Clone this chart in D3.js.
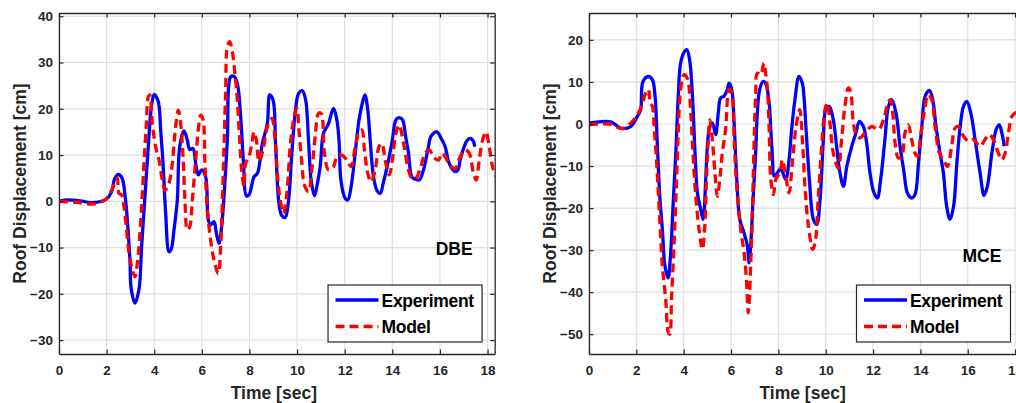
<!DOCTYPE html>
<html>
<head>
<meta charset="utf-8">
<script src="https://cdn.jsdelivr.net/npm/d3@7"></script>
<style>
  body { margin: 0; background: #fff; }
  svg { display: block; font-family: "Liberation Sans", Arial, sans-serif; font-weight: bold; }
</style>
</head>
<body>
<div id="chart"></div>
<script>
// tick labels
const timeTicks = [0, 2, 4, 6, 8, 10, 12, 14, 16, 18];
const dbeTicks = [-30, -20, -10, 0, 10, 20, 30, 40];
const mceTicks = [-50, -40, -30, -20, -10, 0, 10, 20];
const seriesNames = ["Experiment", "Model"];

// [time (sec), roof displacement (cm)]
const dbeExperiment = [
  [0, 0], [0.3, 0.3], [0.9, 0.1], [1.4, -0.3], [2.0, 0.5], [2.2, 2], [2.35, 5], [2.5, 5.8], [2.65, 5],
  [2.78, 1], [2.87, -4], [2.98, -12.7], [3.03, -18.8], [3.19, -22], [3.36, -19], [3.47, -9.8], [3.61, 1],
  [3.75, 11.8], [3.89, 20.8], [4.0, 23.1], [4.17, 21.5], [4.27, 15.4], [4.37, 8.2], [4.48, -2.6],
  [4.62, -10.9], [4.72, -10.2], [4.83, -6.2], [4.97, 0.3], [5.07, 11.8], [5.25, 15.2], [5.39, 13.2],
  [5.49, 11.2], [5.63, 11.4], [5.74, 8.2], [5.85, 5.7], [5.99, 6.8], [6.16, 5.3], [6.27, -4], [6.37, -5.1],
  [6.51, -4.4], [6.61, -6.9], [6.72, -9.1], [6.83, -5.5], [6.93, 1], [7.07, 13.2], [7.21, 26.9], [7.35, 27],
  [7.49, 25.5], [7.63, 18.3], [7.75, 8.2], [7.87, 1.2], [7.98, 1.4], [8.19, 5.3], [8.33, 6], [8.54, 12.5],
  [8.75, 16.8], [8.85, 23], [8.99, 21.9], [9.1, 11.8], [9.24, -0.5], [9.35, -3], [9.5, -3.5], [9.63, -0.4],
  [9.78, 10.4], [9.92, 19], [10.06, 23.3], [10.22, 23.9], [10.36, 21.9], [10.48, 13.2], [10.59, 4.6],
  [10.73, 1.2], [10.83, 3.2], [10.97, 7.5], [11.11, 14.7], [11.32, 16.8], [11.53, 20.1], [11.67, 17.6],
  [11.76, 13.2], [11.84, 4.6], [12.02, 0.6], [12.13, 0.3], [12.27, 3.2], [12.44, 10.4], [12.6, 17.6],
  [12.74, 21.2], [12.85, 23], [12.97, 19.7], [13.07, 13.2], [13.21, 5.3], [13.35, 2.4], [13.49, 1.7],
  [13.63, 4.2], [13.84, 8.9], [14.0, 13.2], [14.15, 17.6], [14.29, 18.1], [14.43, 17.6], [14.56, 14],
  [14.68, 10.4], [14.82, 5.3], [14.96, 4.8], [15.13, 4.6], [15.31, 6.8], [15.49, 11.1], [15.63, 14.1],
  [15.87, 15], [16.05, 13.6], [16.22, 11.8], [16.36, 8.6], [16.5, 7.1], [16.64, 6.4], [16.76, 6.8],
  [16.85, 8.9], [16.99, 11.4], [17.13, 13.1], [17.27, 13.6], [17.41, 12.9], [17.46, 11.8]
];

const dbeModel = [
  [0, 0], [0.7, -0.2], [1.4, -0.6], [1.82, 0], [2.0, 0.6], [2.17, 2], [2.35, 3.9], [2.45, 5], [2.52, 1.7],
  [2.63, 1.4], [2.73, -1.2], [2.84, -6.2], [2.94, -11.2], [3.08, -14.8], [3.19, -16.3], [3.29, -13.4],
  [3.36, -9.8], [3.47, -1.2], [3.57, 8.2], [3.67, 16.8], [3.75, 22.6], [3.81, 23], [3.92, 16.8], [4.06, 11.8],
  [4.2, 8.9], [4.34, 4.6], [4.45, 2.4], [4.62, 3.9], [4.76, 8.2], [4.87, 14.7], [5.01, 19.7], [5.11, 16.8],
  [5.21, 9.6], [5.29, 0.3], [5.39, -6.2], [5.49, -5.5], [5.6, 0.3], [5.74, 8.9], [5.85, 15.4], [5.95, 18.6],
  [6.05, 17.6], [6.13, 8.2], [6.23, -1.9], [6.37, -8.4], [6.51, -12.7], [6.69, -15.6], [6.79, -9.8],
  [6.86, -0.4], [6.93, 11.8], [7.0, 24], [7.07, 33.4], [7.17, 34.5], [7.28, 32.3], [7.39, 27.6], [7.49, 21.9],
  [7.59, 13.2], [7.67, 6.8], [7.77, 3.2], [7.84, 8.2], [7.98, 9.6], [8.12, 13.2], [8.19, 15], [8.29, 13.2],
  [8.4, 8.6], [8.57, 11.1], [8.75, 16.1], [8.94, 17.9], [9.08, 13.2], [9.17, 6], [9.29, 0.3], [9.43, -2.6],
  [9.57, 1.7], [9.71, 11.8], [9.85, 17.6], [9.99, 20.1], [10.08, 15.4], [10.2, 8.2], [10.31, 3.5],
  [10.48, 2.1], [10.62, 6.8], [10.76, 14], [10.9, 19], [11.01, 19], [11.15, 10.4], [11.32, 6.8], [11.53, 7.5],
  [11.67, 9.6], [11.88, 10], [12.09, 8.9], [12.27, 7.5], [12.44, 11.8], [12.6, 15], [12.72, 15.4],
  [12.83, 11.1], [12.97, 6], [13.11, 4.2], [13.28, 6.8], [13.44, 11.8], [13.56, 12.5], [13.7, 8.9],
  [13.87, 5.7], [14.0, 8.9], [14.15, 14.7], [14.29, 16.5], [14.47, 12.5], [14.65, 7.5], [14.82, 5], [14.99, 5],
  [15.17, 7.1], [15.38, 10.4], [15.55, 11.1], [15.73, 9.6], [15.94, 8.9], [16.08, 10.4], [16.22, 9.6],
  [16.43, 7.8], [16.64, 7.1], [16.85, 9.6], [17.06, 11.1], [17.23, 10.4], [17.41, 6], [17.52, 4.6],
  [17.65, 8.9], [17.79, 13.2], [17.93, 15], [18.07, 11.8], [18.21, 7.5], [18.35, 5.3]
];

const mceExperiment = [
  [0, 0.2], [0.92, 0.5], [1.34, -1], [1.76, -0.6], [2.04, 1.8], [2.18, 3.4], [2.28, 10.1], [2.51, 11.3],
  [2.68, 10.5], [2.79, 6.6], [2.89, -5.3], [2.99, -17.2], [3.1, -25.1], [3.21, -33.8], [3.34, -36.6],
  [3.45, -30.6], [3.55, -19.6], [3.66, -7.7], [3.77, 6.6], [3.87, 14.5], [4.01, 17], [4.13, 17.7],
  [4.25, 15.3], [4.37, 6.6], [4.48, -6.9], [4.58, -16.4], [4.72, -20.3], [4.82, -22.7], [4.93, -13.2],
  [5.0, -5.3], [5.1, -0.6], [5.21, 0.2], [5.35, -2.5], [5.46, 2.6], [5.56, 6.2], [5.7, 6.6], [5.82, 7.8],
  [5.92, 9.7], [6.03, 8.2], [6.13, 0.2], [6.23, -11.6], [6.37, -22.7], [6.55, -25.9], [6.69, -29],
  [6.76, -33], [6.83, -29], [6.93, -18], [7.04, -6.9], [7.11, 2.6], [7.21, 8.2], [7.35, 10.1], [7.46, 9.7],
  [7.61, 5], [7.68, -1.3], [7.75, -7.7], [7.82, -12.4], [7.96, -11.6], [8.1, -10.6], [8.31, -13.2],
  [8.45, -8.5], [8.56, -1.3], [8.7, 5.8], [8.87, 11.3], [9.01, 9.7], [9.08, 6.6], [9.17, -1.3], [9.31, -13.2],
  [9.48, -22.7], [9.62, -23.9], [9.76, -18], [9.9, -3.7], [10.0, 3.4], [10.15, 4.2], [10.32, 1],
  [10.46, -5.3], [10.6, -11.6], [10.75, -14.8], [10.89, -10.1], [11.1, -5.3], [11.28, -2.1], [11.42, 0.6],
  [11.59, -0.6], [11.73, -4.5], [11.87, -11.6], [12.04, -16.4], [12.18, -17.6], [12.32, -13.2],
  [12.5, -3.7], [12.65, 4.2], [12.79, 5.8], [12.97, 2.6], [13.14, -5.3], [13.31, -11.6], [13.45, -16.4],
  [13.63, -17.6], [13.77, -16.8], [13.92, -9.3], [14.06, -0.6], [14.2, 6.6], [14.38, 8], [14.52, 5.8],
  [14.66, -0.6], [14.83, -6.9], [14.97, -11.6], [15.11, -19.6], [15.25, -22.7], [15.4, -19.6], [15.54, -9.3],
  [15.68, -0.6], [15.82, 4.2], [15.96, 5.4], [16.13, 2.6], [16.31, -3.7], [16.52, -11.6], [16.69, -17],
  [16.83, -14.8], [17.02, -6.9], [17.2, -1.3], [17.33, -0.2], [17.44, -2.1], [17.54, -5.3]
];

const mceModel = [
  [0, -0.2], [0.85, 0], [1.41, -1.1], [1.76, 0.2], [2.04, 2.2], [2.25, 4.6], [2.39, 7.4], [2.51, 8.2],
  [2.58, 5], [2.68, 4.2], [2.75, -0.6], [2.85, -8.5], [2.96, -19.6], [3.1, -33.8], [3.24, -41.7],
  [3.35, -49.6], [3.41, -50], [3.49, -40.9], [3.59, -29], [3.69, -14.8], [3.77, -2.1], [3.87, 8.2],
  [4.01, 11.7], [4.15, 10.9], [4.3, 2.6], [4.39, -6.9], [4.51, -17.2], [4.65, -25.1], [4.79, -29.8],
  [4.89, -24.3], [4.96, -13.2], [5.04, -3.7], [5.11, 1], [5.21, -3.7], [5.32, -11.6], [5.42, -17.2],
  [5.54, -12.4], [5.63, -6.9], [5.77, -1.3], [5.92, 8.2], [6.03, 7.4], [6.13, -3.7], [6.23, -14],
  [6.41, -25.1], [6.55, -30.6], [6.65, -37], [6.73, -44.9], [6.83, -33.8], [6.9, -21.1], [6.97, -5.3],
  [7.04, 6.6], [7.11, 12.1], [7.25, 11.7], [7.39, 14.5], [7.46, 12.1], [7.54, 8.2], [7.61, -1.3],
  [7.68, -13.2], [7.79, -16.8], [7.89, -13.2], [8.06, -11.6], [8.17, -8.5], [8.31, -12.4], [8.45, -16.4],
  [8.59, -9.3], [8.73, -1.3], [8.9, 3.4], [9.03, -5.3], [9.13, -15.6], [9.27, -24.3], [9.45, -29.8],
  [9.55, -28.3], [9.69, -17.2], [9.83, -5.3], [9.97, 3.4], [10.07, 5], [10.18, 0.2], [10.32, -6.9],
  [10.53, -10.5], [10.67, -3.7], [10.81, 4.2], [10.96, 8.6], [11.05, 7.8], [11.17, 0.2], [11.31, -2.9],
  [11.45, -3.3], [11.66, -2.1], [11.94, -0.6], [12.23, -1.3], [12.44, 1], [12.61, 4.6], [12.72, 5.8],
  [12.83, 2.6], [12.93, -4.5], [13.07, -8.1], [13.21, -7.7], [13.35, -2.1], [13.49, -0.2], [13.63, -3.7],
  [13.77, -6.9], [13.87, -7.7], [14.01, -2.9], [14.15, 2.6], [14.34, 7], [14.48, 5.8], [14.62, -0.6],
  [14.8, -6.9], [14.97, -8.5], [15.14, -10.1], [15.32, -5.3], [15.46, -1], [15.6, -0.6], [15.82, -2.9],
  [16.03, -4.1], [16.24, -3.7], [16.52, -5.3], [16.73, -3.7], [16.91, -2.5], [17.08, -3.7], [17.29, -6.9],
  [17.44, -8.5], [17.58, -6.9], [17.72, -2.1], [17.86, 1.8], [18.0, 2.6], [18.3, 3]
];

const width = 1016, height = 403;
const axisColor = "#262626";

const svg = d3.select("#chart")
  .append("svg")
  .attr("width", width)
  .attr("height", height);

drawPanel({
  id: "dbe", left: 59, right: 494.7, top: 13, bottom: 354,
  yDomain: [-33, 40.7], yTicks: dbeTicks, tag: "DBE", tagY: 255,
  experiment: dbeExperiment, model: dbeModel
});

drawPanel({
  id: "mce", left: 589, right: 1022.2, top: 13, bottom: 354,
  yDomain: [-54.7, 26.4], yTicks: mceTicks, tag: "MCE", tagY: 261.7,
  experiment: mceExperiment, model: mceModel
});

function drawPanel(p) {
  const x = d3.scaleLinear().domain([0, 18.3]).range([p.left, p.right]);
  const y = d3.scaleLinear().domain(p.yDomain).range([p.bottom, p.top]);
  const w = p.right - p.left, h = p.bottom - p.top;

  const g = svg.append("g");

  // grid
  g.append("g").selectAll("line.vx")
    .data(timeTicks)
    .join("line")
    .attr("x1", d => x(d)).attr("x2", d => x(d))
    .attr("y1", p.top).attr("y2", p.bottom)
    .attr("stroke", "#dfdfdf").attr("stroke-width", 1.2);
  g.append("g").selectAll("line.hy")
    .data(p.yTicks)
    .join("line")
    .attr("x1", p.left).attr("x2", p.right)
    .attr("y1", d => y(d)).attr("y2", d => y(d))
    .attr("stroke", "#dfdfdf").attr("stroke-width", 1.2);

  // curves
  svg.append("clipPath").attr("id", "clip-" + p.id)
    .append("rect").attr("x", p.left).attr("y", p.top).attr("width", w).attr("height", h);

  const line = d3.line()
    .x(d => x(d[0]))
    .y(d => y(d[1]))
    .curve(d3.curveCatmullRom.alpha(0.5));

  const curves = g.append("g").attr("clip-path", `url(#clip-${p.id})`);
  curves.append("path")
    .attr("d", line(p.experiment))
    .attr("fill", "none").attr("stroke", "#0000ff")
    .attr("stroke-width", 3.3).attr("stroke-linejoin", "round");
  curves.append("path")
    .attr("d", line(p.model))
    .attr("fill", "none").attr("stroke", "#ff0000")
    .attr("stroke-width", 3.3).attr("stroke-dasharray", "9,5");

  // axes (box with inward ticks)
  const tickLen = 4.5;
  const bottomAxis = g.append("g")
    .attr("transform", `translate(0,${p.bottom})`)
    .call(d3.axisBottom(x).tickValues(timeTicks).tickSizeInner(-tickLen).tickSizeOuter(0).tickPadding(11));
  const topAxis = g.append("g")
    .attr("transform", `translate(0,${p.top})`)
    .call(d3.axisTop(x).tickValues(timeTicks).tickSizeInner(-tickLen).tickSizeOuter(0).tickFormat(""));
  const leftAxis = g.append("g")
    .attr("transform", `translate(${p.left},0)`)
    .call(d3.axisLeft(y).tickValues(p.yTicks).tickSizeInner(-tickLen).tickSizeOuter(0).tickPadding(6));
  const rightAxis = g.append("g")
    .attr("transform", `translate(${p.right},0)`)
    .call(d3.axisRight(y).tickValues(p.yTicks).tickSizeInner(-tickLen).tickSizeOuter(0).tickFormat(""));

  [bottomAxis, topAxis, leftAxis, rightAxis].forEach(a => {
    a.select(".domain").attr("stroke", axisColor).attr("stroke-width", 1.3);
    a.selectAll(".tick line").attr("stroke", axisColor).attr("stroke-width", 1.2);
    a.selectAll("text")
      .attr("fill", axisColor)
      .style("font-family", "'Liberation Sans', Arial, sans-serif")
      .style("font-weight", "bold")
      .style("font-size", "13.5px");
  });

  // axis labels
  g.append("text")
    .attr("x", (p.left + p.right) / 2 - 3)
    .attr("y", 398.5)
    .attr("text-anchor", "middle")
    .attr("fill", axisColor)
    .style("font-size", "17.5px")
    .text("Time [sec]");
  g.append("text")
    .attr("transform", `translate(${p.left - 33},${(p.top + p.bottom) / 2}) rotate(-90)`)
    .attr("text-anchor", "middle")
    .attr("fill", axisColor)
    .style("font-size", "17.5px")
    .text("Roof Displacement [cm]");

  // tag text
  g.append("text")
    .attr("x", x(16.6))
    .attr("y", p.tagY)
    .attr("text-anchor", "middle")
    .attr("fill", "#000")
    .style("font-size", "17.5px")
    .text(p.tag);

  // legend
  const lx = x(11.3), ly = 285, lw = 154, lh = 57;
  const legend = g.append("g");
  legend.append("rect")
    .attr("x", lx).attr("y", ly).attr("width", lw).attr("height", lh)
    .attr("fill", "#fff").attr("stroke", axisColor).attr("stroke-width", 1.2);
  const items = legend.selectAll("g.item")
    .data(seriesNames)
    .join("g")
    .attr("transform", (d, i) => `translate(${lx},${ly + 15 + i * 26.5})`);
  items.append("line")
    .attr("x1", 7.5).attr("x2", 50.5)
    .attr("stroke", (d, i) => i === 0 ? "#0000ff" : "#ff0000")
    .attr("stroke-width", 3.3)
    .attr("stroke-dasharray", (d, i) => i === 0 ? null : "9,5");
  items.append("text")
    .attr("x", 53.5)
    .attr("y", 6.5)
    .attr("fill", "#000")
    .style("font-size", "17.5px")
    .style("letter-spacing", "-0.3px")
    .text(d => d);
}
</script>
</body>
</html>
